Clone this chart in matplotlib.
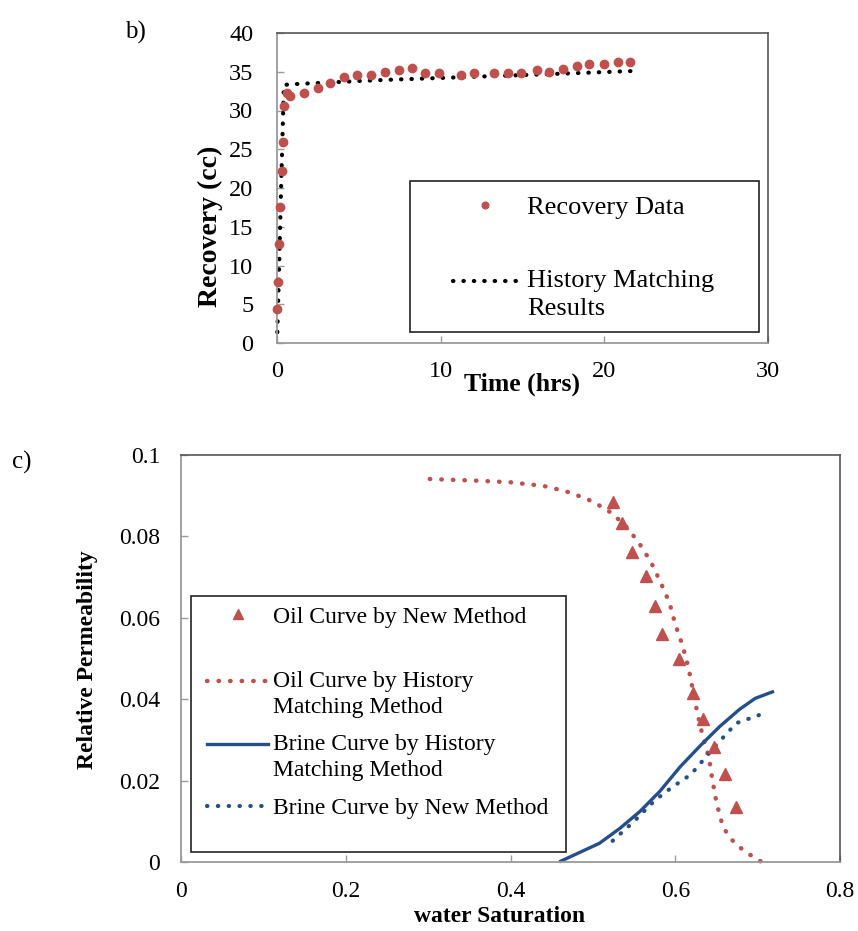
import matplotlib.pyplot as plt
from matplotlib.patches import Rectangle

plt.rcParams["font.family"] = ["Liberation Serif", "DejaVu Serif"]

W, H = 858, 931

# panel b) recovery vs time
rec_time = [0.0, 0.06, 0.14, 0.20, 0.30, 0.37, 0.45, 0.61, 0.77, 1.67, 2.48, 3.26,
            4.11, 4.89, 5.74, 6.62, 7.43, 8.24, 9.06, 9.91, 11.24, 12.05, 13.27,
            14.09, 14.90, 15.88, 16.59, 17.45, 18.33, 19.08, 19.95, 20.81, 21.58]
rec_cc = [4.4, 7.9, 12.8, 17.5, 22.2, 25.9, 30.6, 32.2, 31.9, 32.3, 32.9, 33.5,
          34.3, 34.6, 34.6, 35.0, 35.2, 35.5, 34.8, 34.8, 34.6, 34.8, 34.8,
          34.8, 34.8, 35.2, 35.0, 35.4, 35.7, 36.0, 36.0, 36.2, 36.2]
hm_time = [0.02, 0.12, 0.25, 0.42, 1.0, 3.0, 6.0, 10.0, 14.0, 18.0, 21.8]
hm_cc = [1.4, 9.0, 20.0, 33.3, 33.4, 33.6, 33.9, 34.2, 34.5, 34.8, 35.1]

# panel c) relative permeability vs water saturation
oil_new_sw = [0.524, 0.535, 0.548, 0.564, 0.575, 0.584, 0.604, 0.622, 0.634,
              0.647, 0.660, 0.674]
oil_new_kr = [0.0884, 0.0832, 0.0762, 0.0703, 0.0630, 0.0560, 0.0499, 0.0416,
              0.0351, 0.0282, 0.0216, 0.0136]
oil_hm_sw = [0.302, 0.358, 0.400, 0.440, 0.467, 0.493, 0.517, 0.538, 0.555,
             0.570, 0.582, 0.593, 0.600, 0.609, 0.616, 0.622, 0.627, 0.633,
             0.641, 0.645, 0.650, 0.657, 0.663, 0.672, 0.685, 0.705]
oil_hm_kr = [0.0941, 0.0937, 0.0933, 0.0924, 0.0911, 0.0892, 0.0866, 0.0830,
             0.0787, 0.0739, 0.0688, 0.0637, 0.0584, 0.0531, 0.0478, 0.0416,
             0.0365, 0.0312, 0.0255, 0.0203, 0.0146, 0.0093, 0.0069, 0.0047,
             0.0025, 0.0]
brine_hm_sw = [0.461, 0.508, 0.533, 0.557, 0.581, 0.606, 0.630, 0.654, 0.678,
               0.697, 0.718]
brine_hm_kr = [0.0002, 0.0046, 0.0083, 0.0124, 0.0173, 0.0234, 0.0285, 0.0333,
               0.0375, 0.0402, 0.0418]
brine_new_sw = [0.524, 0.550, 0.575, 0.597, 0.619, 0.646, 0.674, 0.699, 0.713]
brine_new_kr = [0.0052, 0.0100, 0.0151, 0.0185, 0.0215, 0.0279, 0.0341, 0.0359,
                0.0369]

RED = "#C0504D"
BLUE = "#244F8A"


def fx(px):
    return px / W


def fy(py):
    return 1 - py / H


def style_axes(ax):
    for side in ("left", "bottom"):
        ax.spines[side].set_color("#9a9a9a")
        ax.spines[side].set_linewidth(1.3)
    for side in ("top", "right"):
        ax.spines[side].set_color("#555555")
        ax.spines[side].set_linewidth(1.2)
    ax.tick_params(direction="in", length=5, width=1, color="#9a9a9a")


def frame(x0, y0, x1, y1):
    fig.add_artist(Rectangle((fx(x0), fy(y1)), fx(x1) - fx(x0), fy(y0) - fy(y1),
                             transform=fig.transFigure, fill=False,
                             edgecolor="#222222", linewidth=1.2, zorder=5))


def spaced(leg, ls, shift):
    # excel puts the handle of a wrapped label next to its first line
    for t, hd in zip(leg.get_texts(), leg.legend_handles):
        t.set_linespacing(ls)
        if "\n" in t.get_text():
            hd.set_ydata(hd.get_ydata() + shift)


fig = plt.figure(figsize=(W / 100, H / 100), dpi=100)

# ---- panel b
ax_b = fig.add_axes([fx(277), fy(343), fx(768) - fx(277), fy(33) - fy(343)])
ax_b.plot(hm_time, hm_cc, color="black", linewidth=3,
          linestyle=(0, (0.1, 2.4)), dash_capstyle="round",
          label="History Matching\nResults", clip_on=False)
ax_b.plot(rec_time, rec_cc, linestyle="none", marker="o", markersize=6,
          color=RED, label="Recovery Data", clip_on=False, zorder=3)
ax_b.set_xlim(0, 30)
ax_b.set_ylim(0, 40)
ax_b.set_xticks([0, 10, 20, 30])
ax_b.set_yticks(range(0, 41, 5))
style_axes(ax_b)
ax_b.tick_params(axis="x", labelsize=17.5, pad=13)
ax_b.tick_params(axis="y", labelsize=17.5, pad=17)

h, l = ax_b.get_legend_handles_labels()
leg_b = ax_b.legend([h[1], h[0]], [l[1], l[0]], loc="upper left",
                    bbox_to_anchor=(fx(453), fy(196)), bbox_transform=fig.transFigure,
                    frameon=False, fontsize=19, borderpad=0, borderaxespad=0,
                    handlelength=2.4, handletextpad=0.4, labelspacing=1.9,
                    markerscale=0.8)
spaced(leg_b, 1.4, 9.7)
frame(410, 181, 759, 332)

fig.text(fx(210), fy(226), "Recovery (cc)", rotation=90, ha="center", va="center",
         fontsize=20, fontweight="bold")
fig.text(fx(522), fy(384), "Time (hrs)", ha="center", va="center",
         fontsize=18.5, fontweight="bold")
fig.text(fx(135), fy(32), "b)", ha="center", va="center", fontsize=18)

# ---- panel c
ax_c = fig.add_axes([fx(181), fy(862), fx(840) - fx(181), fy(455) - fy(862)])
ax_c.plot(oil_new_sw, oil_new_kr, linestyle="none", marker="^", markersize=9,
          color=RED, label="Oil Curve by New Method", zorder=4)
ax_c.plot(oil_hm_sw, oil_hm_kr, color=RED, linewidth=3.2,
          linestyle=(0, (0.1, 2.5)), dash_capstyle="round",
          label="Oil Curve by History\nMatching Method", clip_on=False)
ax_c.plot(brine_hm_sw, brine_hm_kr, color=BLUE, linewidth=2.4,
          label="Brine Curve by History\nMatching Method", clip_on=False)
ax_c.plot(brine_new_sw, brine_new_kr, color=BLUE, linewidth=3,
          linestyle=(0, (0.1, 2.5)), dash_capstyle="round",
          label="Brine Curve by New Method")
ax_c.set_xlim(0, 0.8)
ax_c.set_ylim(0, 0.1)
ax_c.set_xticks([0, 0.2, 0.4, 0.6, 0.8])
ax_c.set_xticklabels(["0", "0.2", "0.4", "0.6", "0.8"])
ax_c.set_yticks([0, 0.02, 0.04, 0.06, 0.08, 0.1])
ax_c.set_yticklabels(["0", "0.02", "0.04", "0.06", "0.08", "0.1"])
style_axes(ax_c)
ax_c.tick_params(axis="x", labelsize=17, pad=14)
ax_c.tick_params(axis="y", labelsize=17, pad=15)

h, l = ax_c.get_legend_handles_labels()
leg_c1 = ax_c.legend(h[:1], l[:1], loc="upper left",
                     bbox_to_anchor=(fx(207), fy(606)), bbox_transform=fig.transFigure,
                     frameon=False, fontsize=17, borderpad=0, borderaxespad=0,
                     handlelength=2.6, handletextpad=0.2, markerscale=0.8)
ax_c.add_artist(leg_c1)
leg_c2 = ax_c.legend(h[1:], l[1:], loc="upper left",
                     bbox_to_anchor=(fx(207), fy(671)), bbox_transform=fig.transFigure,
                     frameon=False, fontsize=17, borderpad=0, borderaxespad=0,
                     handlelength=2.6, handletextpad=0.2, labelspacing=0.7)
spaced(leg_c2, 1.3, 9.4)
frame(191, 596, 566, 852)

fig.text(fx(88), fy(660), "Relative Permeability", rotation=90, ha="center",
         va="center", fontsize=17, fontweight="bold")
fig.text(fx(500), fy(917), "water Saturation", ha="center", va="center",
         fontsize=17, fontweight="bold")
fig.text(fx(22), fy(462), "c)", ha="center", va="center", fontsize=18)

fig.savefig("out.png", dpi=100)
